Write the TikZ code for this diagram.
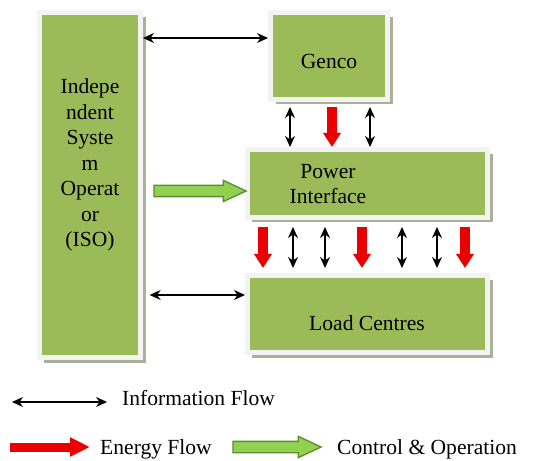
\documentclass[tikz,border=0pt]{standalone}
\usepackage{fontspec}
\setmainfont{Liberation Serif}
\usetikzlibrary{arrows.meta,positioning,shapes.arrows,shadows}
\definecolor{boxGreen}{RGB}{155,187,89}
\definecolor{boxEdge}{RGB}{243,243,243}
\definecolor{boxShade}{RGB}{170,176,154}
\definecolor{ctlGreen}{RGB}{146,208,80}
\definecolor{ctlEdge}{RGB}{96,140,48}
\definecolor{energyRed}{RGB}{235,0,0}

\tikzset{
  blockbox/.style={fill=boxGreen, draw=boxEdge, line width=0.15cm, inner sep=0pt,
    drop shadow={shadow xshift=0.15cm, shadow yshift=-0.15cm, fill=boxShade, opacity=1}},
  info/.style={line width=0.035cm,
    {Stealth[length=0.33cm,width=0.3cm]}-{Stealth[length=0.33cm,width=0.3cm]}},
  energy/.style={color=energyRed, line width=0.3cm, -{Triangle[length=0.42cm,width=0.51cm]}},
  ctl/.style={single arrow, fill=ctlGreen, draw=ctlEdge, line width=0.04cm,
    inner xsep=0pt, inner ysep=0.15cm, minimum width=0pt,
    single arrow head extend=0.15cm, single arrow tip angle=50},
  keytext/.style={anchor=base west, inner sep=0pt}
}

\begin{document}
\begin{tikzpicture}[x=0.03cm, y=-0.03cm, font=\fontsize{18.4}{21.8}\selectfont]
  \useasboundingbox (0,0) rectangle (538,461);

  % Blocks
  \node[blockbox, minimum width=3.03cm, minimum height=10.35cm] (iso) at (90,185) {};
  \node[blockbox, minimum width=3.51cm, minimum height=2.61cm] (genco) at (329,56) {};
  \node[blockbox, minimum width=7.2cm, minimum height=2.04cm] (pi) at (367.5,183.5) {};
  \node[blockbox, minimum width=7.2cm, minimum height=2.31cm] (lc) at (367.5,314) {};

  % Block texts
  \node[align=center] (isotxt) at (90,165) {Indepe\\ndent\\Syste\\m\\Operat\\or\\(ISO)};
  \node (gencotxt) at (329,61) {Genco};
  \node[align=center] (pitxt) at (328,184) {Power\\Interface};
  \node (lctxt) at (367,323) {Load Centres};

  % Information flow
  \draw[info] (iso.east |- 0,38) -- (genco.west |- 0,38);
  \draw[info, shorten <=0.2cm] (iso.east |- 0,295) -- (lc.west |- 0,295);
  \foreach \x in {290,370}
    \draw[info, shorten <=0.15cm] (\x,0 |- genco.south) -- (\x,0 |- pi.north);
  \foreach \x in {293,325,402,437}
    \draw[info, shorten <=0.21cm, shorten >=0.15cm] (\x,0 |- pi.south) -- (\x,0 |- lc.north);

  % Energy flow
  \draw[energy, shorten <=0.15cm] (332,0 |- genco.south) -- (332,0 |- pi.north);
  \foreach \x in {263,362,465}
    \draw[energy, shorten <=0.21cm, shorten >=0.15cm] (\x,0 |- pi.south) -- (\x,0 |- lc.north);

  % Control & operation
  \node[ctl, minimum height=2.76cm] (ctlarrow) at (194,191) {};

  % Key
  \coordinate (infoA) at (12,402);
  \coordinate (infoB) at (107,402);
  \draw[info] (infoA) -- (infoB);
  \node[keytext] (infotxt) at (122,405) {Information Flow};
  \coordinate (enA) at (10,447);
  \coordinate (enB) at (90,447);
  \draw[energy, line width=0.27cm, -{Triangle[length=0.6cm,width=0.54cm]}] (enA) -- (enB);
  \node[keytext] (entxt) at (100,454) {Energy Flow};
  \node[ctl, minimum height=2.64cm] (ctlkey) at (271,447) {};
  \node[keytext] (ctltxt) at (337,454) {Control \& Operation};
\end{tikzpicture}
\end{document}
